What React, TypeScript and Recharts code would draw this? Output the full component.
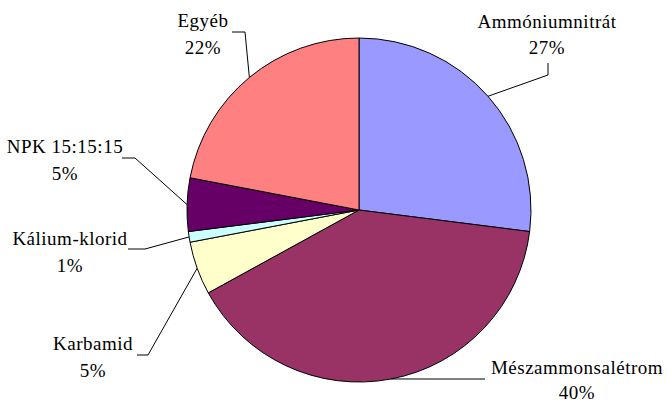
import { PieChart, Pie, Cell } from 'recharts';

const names = ['Ammóniumnitrát', 'Mészammonsalétrom', 'Karbamid', 'Kálium-klorid', 'NPK 15:15:15', 'Egyéb'];
const shares = [27, 40, 5, 1, 5, 22];
const colors = ['#9999FF', '#993366', '#FFFFCC', '#CCFFFF', '#660066', '#FF8080'];

// label placement, offsets from the pie centre: elbow, line end, text centre (x, line1 y, line2 y)
const labelLayout = [
  { elbow: [189, -135], end: [189, -147], text: [188, -189, -163] },
  { elbow: [76, 169], end: [126, 169], text: [218, 157, 182] },
  { elbow: [-211, 145], end: [-222, 145], text: [-266, 133, 160] },
  { elbow: [-214, 39], end: [-231, 39], text: [-289, 28, 55] },
  { elbow: [-224, -52], end: [-237, -52], text: [-294, -64, -37] },
  { elbow: [-114, -178], end: [-127, -178], text: [-156, -190, -163] },
];

const data = names.map((name, i) => ({ name, value: shares[i] }));

const RADIAN = Math.PI / 180;
const textStyle = { fontFamily: 'Liberation Serif', fontSize: 19, letterSpacing: 0.5 };

const renderLabel = (props: any) => {
  const { cx, cy, midAngle, outerRadius, index } = props;
  const ex = cx + outerRadius * Math.cos(-midAngle * RADIAN);
  const ey = cy + outerRadius * Math.sin(-midAngle * RADIAN);
  const l = labelLayout[index];
  const pts = `${ex},${ey} ${cx + l.elbow[0]},${cy + l.elbow[1]} ${cx + l.end[0]},${cy + l.end[1]}`;
  return (
    <g>
      <polyline points={pts} fill="none" stroke="#000" strokeWidth={1} />
      <text x={cx + l.text[0]} y={cy + l.text[1]} textAnchor="middle" dominantBaseline="central"
        style={textStyle} fill="#000">
        {names[index]}
      </text>
      <text x={cx + l.text[0]} y={cy + l.text[2]} textAnchor="middle" dominantBaseline="central"
        style={textStyle} fill="#000">
        {shares[index]}%
      </text>
    </g>
  );
};

export default function App() {
  return (
    <div style={{ position: 'absolute', left: 0, top: 0, width: 667, height: 402, background: '#fff' }}>
      <PieChart width={667} height={402} margin={{ top: 0, right: 0, bottom: 0, left: 0 }}>
        <Pie
          data={data}
          dataKey="value"
          nameKey="name"
          cx={359}
          cy={210}
          outerRadius={172}
          startAngle={90}
          endAngle={-270}
          stroke="#000"
          strokeWidth={1}
          label={renderLabel}
          labelLine={false}
          isAnimationActive={false}
        >
          {data.map((d, i) => (
            <Cell key={d.name} fill={colors[i]} />
          ))}
        </Pie>
      </PieChart>
    </div>
  );
}
